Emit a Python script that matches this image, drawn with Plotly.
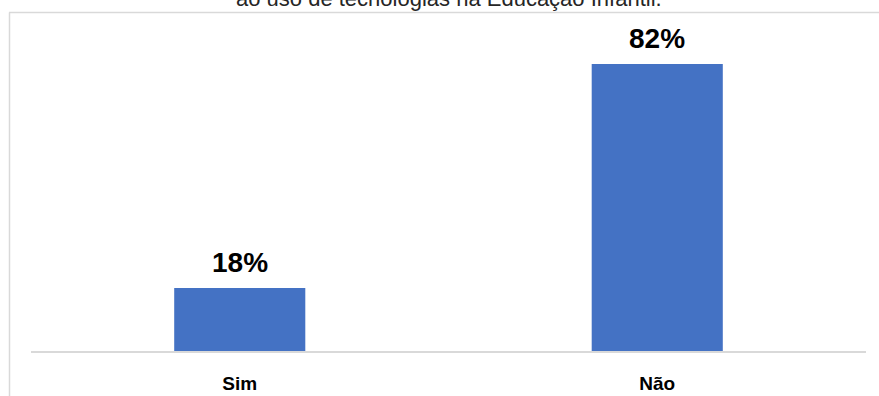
import plotly.graph_objects as go

categories = ["Sim", "Não"]
values = [18, 82]
labels = ["18%", "82%"]
title_text = "ao uso de tecnologias na Educação Infantil."

W, H = 879, 396
L, R, T, B = 31, 13, 36, 45
plot_w = W - L - R
plot_h = H - T - B

def px_x(px):
    return (px - L) / plot_w

def px_y(py):
    return (H - B - py) / plot_h

fig = go.Figure()
fig.add_trace(go.Bar(
    x=categories, y=values,
    marker=dict(color="#4472C4", line=dict(width=0)),
    hoverinfo="skip",
))

for c, v, t in zip(categories, values, labels):
    fig.add_annotation(
        x=c, y=v, text=f"<b>{t}</b>", showarrow=False,
        yanchor="bottom", yshift=8,
        font=dict(family="Liberation Sans, Arial", size=28, color="#000000"),
    )

fig.add_annotation(
    x=0.5, xref="paper", y=px_y(-1), yref="paper", yanchor="middle",
    text=title_text, showarrow=False,
    font=dict(family="Liberation Sans, Arial", size=22, color="#262626"),
)

# outer chart border (partially visible)
fig.add_shape(type="line", xref="paper", yref="paper",
              x0=px_x(9), x1=px_x(880), y0=px_y(12.5), y1=px_y(12.5),
              line=dict(color="#d9d9d9", width=1.5))
fig.add_shape(type="line", xref="paper", yref="paper",
              x0=px_x(9.5), x1=px_x(9.5), y0=px_y(12.5), y1=px_y(397),
              line=dict(color="#d9d9d9", width=1.5))

fig.update_layout(
    width=W, height=H,
    margin=dict(l=L, r=R, t=T, b=B, pad=0, autoexpand=False),
    paper_bgcolor="white", plot_bgcolor="white",
    bargap=0.686,
    showlegend=False,
    font=dict(family="Liberation Sans, Arial", color="#000000"),
)
fig.update_xaxes(
    automargin=False,
    showline=True, linecolor="#d9d9d9", linewidth=1.5,
    showgrid=False, ticks="",
    tickfont=dict(family="Liberation Sans, Arial", size=19, color="#000000", weight="bold"),
    ticklabelstandoff=14,
)
fig.update_yaxes(automargin=False, range=[0, 90], visible=False, showgrid=False, zeroline=False)

fig.write_html("out.html")
